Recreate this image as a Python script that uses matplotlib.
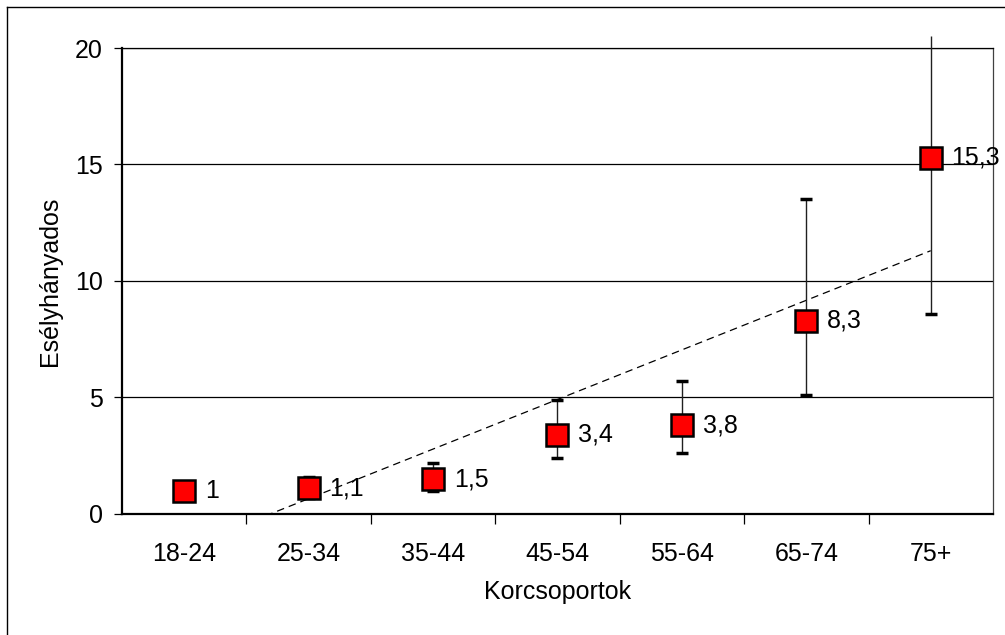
import matplotlib
matplotlib.use("Agg")
import matplotlib.pyplot as plt
import numpy as np
from matplotlib.lines import Line2D

plt.rcParams['font.family'] = ['Liberation Sans', 'DejaVu Sans']

# age groups and odds ratios with confidence limits
korcsoportok = ['18-24', '25-34', '35-44', '45-54', '55-64', '65-74', '75+']
esely = [1.0, 1.1, 1.5, 3.4, 3.8, 8.3, 15.3]
also = [1.0, 0.7, 1.0, 2.4, 2.6, 5.1, 8.6]
felso = [1.0, 1.6, 2.2, 4.9, 5.7, 13.5, 20.5]
cimkek = ['1', '1,1', '1,5', '3,4', '3,8', '8,3', '15,3']

x = np.arange(1, len(korcsoportok) + 1)
y = np.array(esely)
lo = np.array(also)
hi = np.array(felso)

fig = plt.figure(figsize=(10.05, 6.35), dpi=100)
ax = fig.add_axes([0.1214, 0.1906, 0.8666, 0.7338])

# horizontal gridlines
for g in [5, 10, 15, 20]:
    ax.axhline(g, color='black', lw=0.9, zorder=1)

# linear trend line over the odds ratios
k, b = np.polyfit(x, y, 1)
xt = np.array([1, 7])
ax.plot(xt, k * xt + b, color='black', lw=0.9, linestyle=(0, (6, 4)), zorder=2)

# error bars (first group is the reference, no interval)
ax.vlines(x[1:], lo[1:], hi[1:], color='#202020', lw=1.0, zorder=3, clip_on=False)
ax.plot(x[1:], lo[1:], linestyle='none', marker='_', markersize=8,
        markeredgewidth=2.5, color='black', zorder=3)
# the last upper limit runs past the frame and has no cap
ax.plot(x[1:-1], hi[1:-1], linestyle='none', marker='_', markersize=8,
        markeredgewidth=2.5, color='black', zorder=3)

ax.plot(x, y, linestyle='none', marker='s', markersize=15.5,
        markerfacecolor='#ff0000', markeredgecolor='black', markeredgewidth=1.8,
        zorder=4, clip_on=False)

for xi, yi, t in zip(x, y, cimkek):
    ax.annotate(t, (xi, yi), xytext=(15, 0), textcoords='offset points',
                va='center', ha='left', fontsize=18, zorder=5)

ax.set_xlim(0.5, 7.5)
ax.set_ylim(0, 20)
ax.set_yticks([0, 5, 10, 15, 20])
ax.set_xticks(x)
ax.set_xticklabels(korcsoportok)
ax.set_xticks(np.arange(1.5, 7.5, 1), minor=True)
ax.tick_params(axis='x', which='major', length=0, pad=20, labelsize=18)
ax.tick_params(axis='x', which='minor', length=7, width=0.9, direction='out')
ax.tick_params(axis='y', length=6, width=0.9, pad=8, labelsize=18)

for s in ['left', 'bottom']:
    ax.spines[s].set_linewidth(1.6)
ax.spines['right'].set_linewidth(0.9)
ax.spines['right'].set_color('#404040')
ax.spines['top'].set_linewidth(0.9)

ax.set_ylabel('Esélyhányados', fontsize=18, labelpad=9)
ax.set_xlabel('Korcsoportok', fontsize=18, labelpad=10)

# frame around the chart area
fig.add_artist(Line2D([7 / 1005, 7 / 1005], [0, 1 - 7 / 635], color='black', lw=1.0))
fig.add_artist(Line2D([7 / 1005, 1], [1 - 7 / 635, 1 - 7 / 635], color='black', lw=1.0))

fig.savefig('out.png', dpi=100, facecolor='white')
